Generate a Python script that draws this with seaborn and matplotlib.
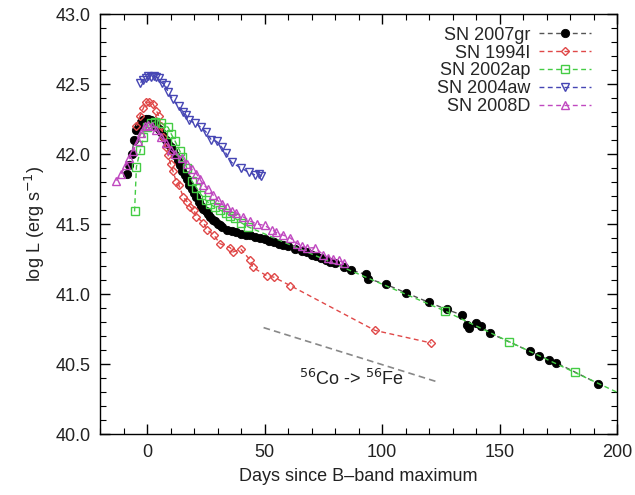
import numpy as np
import pandas as pd
import matplotlib
matplotlib.use("Agg")
import matplotlib.pyplot as plt
import seaborn as sns

# ---------------- data ----------------
gr_days = [-8.5, -7.5, -6.5, -5.5, -4.5, -3.5, -2.5, -1.5, -0.5, 0.5, 1.5, 3, 4, 5, 6, 7, 8, 9, 10,
           11, 12, 13, 14, 15, 16, 17, 18, 19, 20, 21, 22, 23, 24, 25, 26, 27, 28, 29, 30, 31, 32,
           34, 36, 38, 40, 42, 44, 46, 48, 50, 52, 54, 56, 58, 60, 63, 66, 68, 70, 72, 74, 76, 78,
           80, 84, 87, 93, 94, 101.5, 110, 120, 127.5, 134, 136, 137, 140, 142, 146, 163, 167, 171,
           174, 192]
gr_logL = [41.86, 41.92, 42.00, 42.10, 42.17, 42.20, 42.23, 42.24, 42.25, 42.25, 42.24, 42.22,
           42.20, 42.18, 42.16, 42.13, 42.10, 42.07, 42.05, 42.02, 41.99, 41.95, 41.92, 41.88,
           41.85, 41.82, 41.78, 41.75, 41.72, 41.69, 41.66, 41.63, 41.61, 41.59, 41.57, 41.55,
           41.53, 41.52, 41.50, 41.49, 41.48, 41.46, 41.45, 41.44, 41.43, 41.42, 41.42, 41.41,
           41.40, 41.39, 41.38, 41.37, 41.36, 41.35, 41.34, 41.32, 41.31, 41.30, 41.28, 41.27,
           41.26, 41.24, 41.23, 41.22, 41.19, 41.17, 41.14, 41.11, 41.07, 41.01, 40.94, 40.89,
           40.85, 40.78, 40.76, 40.79, 40.77, 40.72, 40.59, 40.56, 40.53, 40.51, 40.36]

i94_days = [-4.5, -3, -1.5, -0.5, 1, 2.5, 4, 5, 6, 7, 8, 9, 10, 11, 12.5, 13.5, 15.5, 17, 18.5,
            20, 21, 24, 25.5, 28.5, 31, 35.5, 36.5, 40, 44, 45, 51, 54, 61, 97, 121]
i94_logL = [42.20, 42.27, 42.33, 42.37, 42.37, 42.36, 42.31, 42.27, 42.20, 42.12, 42.05, 41.99,
            41.93, 41.88, 41.80, 41.78, 41.69, 41.66, 41.62, 41.60, 41.55, 41.51, 41.46, 41.42,
            41.36, 41.33, 41.30, 41.32, 41.24, 41.19, 41.13, 41.12, 41.06, 40.74, 40.65]

ap_days = [-5.3, -4.5, -2.8, -1.5, -0.2, 1.5, 3.5, 6, 9, 10.4, 12, 14, 15, 17, 19, 21, 23, 25, 27,
           29, 31, 33.5, 35.5, 37.5, 40, 43, 126.6, 154, 182, 210]
ap_logL = [41.59, 41.91, 42.03, 42.12, 42.19, 42.22, 42.23, 42.22, 42.19, 42.14, 42.09, 42.02,
           41.98, 41.90, 41.81, 41.76, 41.71, 41.67, 41.64, 41.62, 41.60, 41.58, 41.56, 41.54,
           41.51, 41.48, 40.88, 40.66, 40.44, 40.22]

aw_days = [-2.8, -1.5, -0.6, 0.6, 1.8, 2.8, 4, 4.9, 6.2, 7.9, 9, 11, 13.4, 15.5, 16.5, 17.7, 20.6,
           23, 25, 27.4, 29.6, 31.7, 33.4, 36, 40, 43.2, 46, 47.5, 48.7]
aw_logL = [42.51, 42.53, 42.54, 42.56, 42.55, 42.56, 42.55, 42.54, 42.51, 42.49, 42.44, 42.39,
           42.34, 42.30, 42.28, 42.24, 42.22, 42.19, 42.16, 42.10, 42.09, 42.05, 42.01, 41.94,
           41.90, 41.87, 41.85, 41.86, 41.84]

d8_days = [-13, -11, -9, -7.5, -6, -4, -2.5, -1, 0.5, 2, 4, 6, 8, 10, 12, 15, 17, 19, 21, 22.5,
           24, 26, 28, 30, 32, 34, 36, 38, 41, 44, 47, 50, 53, 55, 58, 61, 64, 66, 68, 71.5, 75,
           77, 79, 81.5, 84]
d8_logL = [41.81, 41.86, 41.92, 41.97, 42.02, 42.09, 42.15, 42.20, 42.21, 42.20, 42.17, 42.12,
           42.08, 42.03, 42.00, 41.97, 41.93, 41.89, 41.86, 41.82, 41.78, 41.75, 41.71, 41.67,
           41.64, 41.62, 41.59, 41.58, 41.55, 41.52, 41.50, 41.49, 41.46, 41.44, 41.42, 41.40,
           41.36, 41.34, 41.33, 41.33, 41.28, 41.26, 41.25, 41.24, 41.22]

co_days = [49.6, 124]
co_logL = [40.76, 40.37]

labels = ["SN 2007gr", "SN 1994I", "SN 2002ap", "SN 2004aw", "SN 2008D"]

# ---------------- plotting ----------------
sns.set_theme(style="ticks")
plt.rcParams["font.family"] = ["Liberation Sans", "DejaVu Sans"]

FS = 13

fig = plt.figure(figsize=(6.35, 4.95), dpi=100)
ax = fig.add_axes([0.1575, 0.1232, 0.8142, 0.8485])

series = [
    (gr_days, gr_logL, dict(color="#555555", marker="o", mfc="black", mec="black", ms=6, mew=0.6)),
    (i94_days, i94_logL, dict(color="#e04848", marker="D", mfc="none", mec="#e04848", ms=4.5, mew=1.0)),
    (ap_days, ap_logL, dict(color="#44cc44", marker="s", mfc="none", mec="#44cc44", ms=5.5, mew=1.0)),
    (aw_days, aw_logL, dict(color="#4646b4", marker="v", mfc="none", mec="#4646b4", ms=5.5, mew=1.0)),
    (d8_days, d8_logL, dict(color="#c048c0", marker="^", mfc="none", mec="#c048c0", ms=5.5, mew=1.0)),
]

for (xd, yd, kw), lab in zip(series, labels):
    sns.lineplot(x=xd, y=yd, ax=ax, estimator=None, sort=False, linestyle=(0, (3.5, 2.5)),
                 linewidth=1.0, label=lab, **kw)

sns.lineplot(x=co_days, y=co_logL, ax=ax, estimator=None, sort=False, color="#888888",
             linestyle=(0, (4, 2.5)), linewidth=1.2, legend=False)
ax.text(87, 40.39, r"$^{56}$Co -> $^{56}$Fe", fontsize=FS, ha="center", va="center",
        color="#222222")

ax.set_xlim(-20, 200)
ax.set_ylim(40.0, 43.0)
ax.set_xticks([0, 50, 100, 150, 200])
ax.set_yticks([40.0, 40.5, 41.0, 41.5, 42.0, 42.5, 43.0])
ax.set_yticklabels(["40.0", "40.5", "41.0", "41.5", "42.0", "42.5", "43.0"])
ax.xaxis.set_minor_locator(matplotlib.ticker.MultipleLocator(10))
ax.yaxis.set_minor_locator(matplotlib.ticker.MultipleLocator(0.1))
ax.tick_params(which="both", direction="in", top=True, right=True, colors="black",
               labelcolor="#222222", labelsize=FS)
ax.tick_params(which="major", length=7, width=1.0, pad=7)
ax.tick_params(which="minor", length=4, width=0.8)
for s in ax.spines.values():
    s.set_color("black")
    s.set_linewidth(1.0)

ax.set_xlabel("Days since B\u2013band maximum", fontsize=FS, color="#222222", labelpad=5)
ax.set_ylabel(r"log L (erg s$^{-1}$)", fontsize=FS, color="#222222", labelpad=6)

leg = ax.legend(loc="upper right", frameon=False, markerfirst=False, fontsize=FS,
                handlelength=2.9, labelspacing=0.05, borderaxespad=0.3, handletextpad=0.5,
                bbox_to_anchor=(0.975, 1.0))

fig.savefig("out.png", dpi=100)
